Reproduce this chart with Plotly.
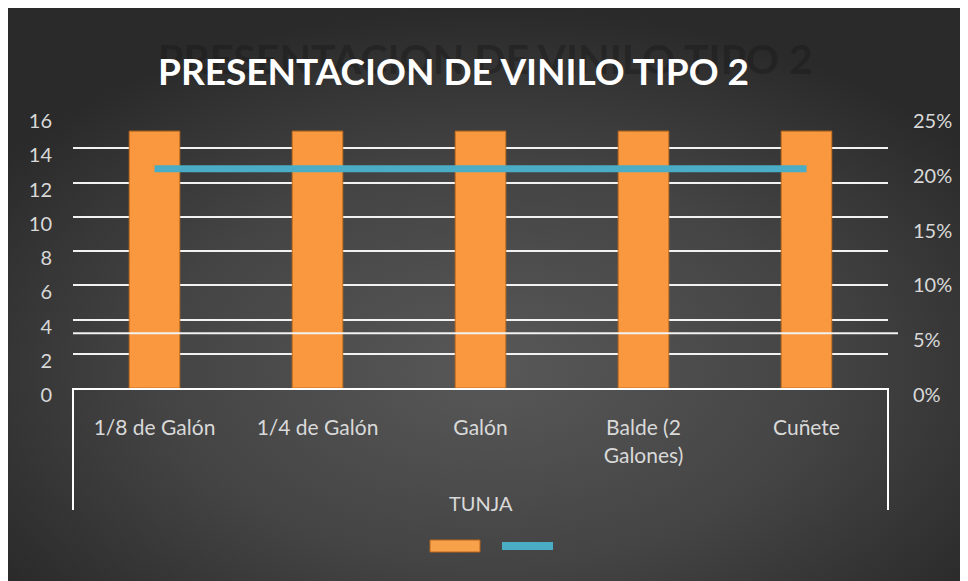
import base64

import plotly.graph_objects as go

# data
categories = ["1/8 de Galón", "1/4 de Galón", "Galón", "Balde (2<br>Galones)", "Cuñete"]
cantidad = [15, 15, 15, 15, 15]
porcentaje = [0.20, 0.20, 0.20, 0.20, 0.20]
left_ticks = [0, 2, 4, 6, 8, 10, 12, 14, 16]
right_ticks = [0, 0.05, 0.10, 0.15, 0.20, 0.25]
group_label = "TUNJA"
title = "PRESENTACION DE VINILO TIPO 2"

W, H = 968, 581
OFF = 8                                  # page body margin
L, R, T, B = 73, 888, 114, 388          # plot area in page px
PW, PH = R - L, B - T

ORANGE = "#F9983F"
BLUE = "#4BACC6"
TXT = "#D9D9D9"
FONT = "Lato, 'Open Sans', sans-serif"


def px_x(x):
    return (x - L) / PW


def px_y(y):
    return (B - y) / PH


# dark radial background as an svg image
svg = f"""<svg xmlns='http://www.w3.org/2000/svg' width='{W}' height='{H}'>
<defs><radialGradient id='g' cx='0.5' cy='0.62' r='0.62'>
<stop offset='0' stop-color='#585858'/><stop offset='0.55' stop-color='#444444'/>
<stop offset='1' stop-color='#2a2a2a'/></radialGradient></defs>
<rect width='{W}' height='{H}' fill='url(#g)'/></svg>"""
bg_src = "data:image/svg+xml;base64," + base64.b64encode(svg.encode()).decode()

fig = go.Figure()

fig.add_trace(go.Bar(
    x=categories, y=cantidad,
    marker=dict(color=ORANGE, line=dict(color="#C8701F", width=1)),
    showlegend=False, hoverinfo="skip",
))

fig.add_trace(go.Scatter(
    x=categories, y=porcentaje, yaxis="y2",
    mode="lines",
    line=dict(color=BLUE, width=7),
    showlegend=False, hoverinfo="skip",
))

shapes = [
    # category frame (multi-level axis divider)
    dict(type="line", xref="paper", yref="paper", x0=0, x1=0,
         y0=0, y1=px_y(510), line=dict(color="white", width=2)),
    dict(type="line", xref="paper", yref="paper", x0=1, x1=1,
         y0=0, y1=px_y(510), line=dict(color="white", width=2)),
    # stray 5% line of the secondary axis
    dict(type="line", xref="paper", yref="y2", x0=0, x1=px_x(898),
         y0=right_ticks[1], y1=right_ticks[1], layer="above",
         line=dict(color="#F2F2F2", width=2)),
    # legend keys
    dict(type="rect", xref="paper", yref="paper",
         x0=px_x(430), x1=px_x(480), y0=px_y(552), y1=px_y(540),
         fillcolor="#F7A24A", line=dict(color="#B8651C", width=1)),
    dict(type="rect", xref="paper", yref="paper",
         x0=px_x(502), x1=px_x(553), y0=px_y(550), y1=px_y(542),
         fillcolor=BLUE, line=dict(width=0)),
]

annotations = [
    # faint reflection of the title
    dict(text=f"<b>{title}</b>", xref="paper", yref="paper",
         x=px_x(486), y=px_y(58), xanchor="center", yanchor="middle",
         showarrow=False,
         font=dict(family=FONT, size=41, color="rgba(25,25,25,0.45)")),
    dict(text=f"<b>{title}</b>", xref="paper", yref="paper",
         x=px_x(453), y=px_y(71), xanchor="center", yanchor="middle",
         showarrow=False,
         font=dict(family=FONT, size=37, color="white")),
    dict(text=group_label, xref="paper", yref="paper",
         x=px_x(481), y=px_y(503), xanchor="center", yanchor="middle",
         showarrow=False,
         font=dict(family=FONT, size=20, color=TXT)),
]

fig.update_layout(
    width=W, height=H,
    margin=dict(l=L - OFF, r=W + OFF - R, t=T - OFF, b=H + OFF - B),
    paper_bgcolor="#333333",
    plot_bgcolor="rgba(0,0,0,0)",
    bargap=0.69,
    showlegend=False,
    font=dict(family=FONT, size=20, color=TXT),
    xaxis=dict(
        showline=True, linecolor="white", linewidth=2,
        showgrid=False, ticks="", ticklabelstandoff=20,
        tickfont=dict(size=21, color=TXT),
    ),
    yaxis=dict(
        range=[0, 16], tickvals=left_ticks,
        showgrid=True, gridcolor="#F2F2F2", gridwidth=2,
        zeroline=False, showline=False, ticks="",
        ticklabelshift=7, ticklabelstandoff=20,
        tickfont=dict(size=20, color=TXT),
    ),
    yaxis2=dict(
        overlaying="y", side="right",
        range=[0, 0.25], tickvals=right_ticks, tickformat=".0%",
        showgrid=False, zeroline=False, showline=False, ticks="",
        ticklabelshift=7, ticklabelstandoff=24,
        tickfont=dict(size=20, color=TXT),
    ),
    shapes=shapes,
    annotations=annotations,
    images=[dict(
        source=bg_src, xref="paper", yref="paper",
        x=-(L - OFF) / PW, y=1 + (T - OFF) / PH,
        sizex=W / PW, sizey=H / PH,
        xanchor="left", yanchor="top", sizing="stretch", layer="below",
    )],
)

fig.write_html("out.html")
